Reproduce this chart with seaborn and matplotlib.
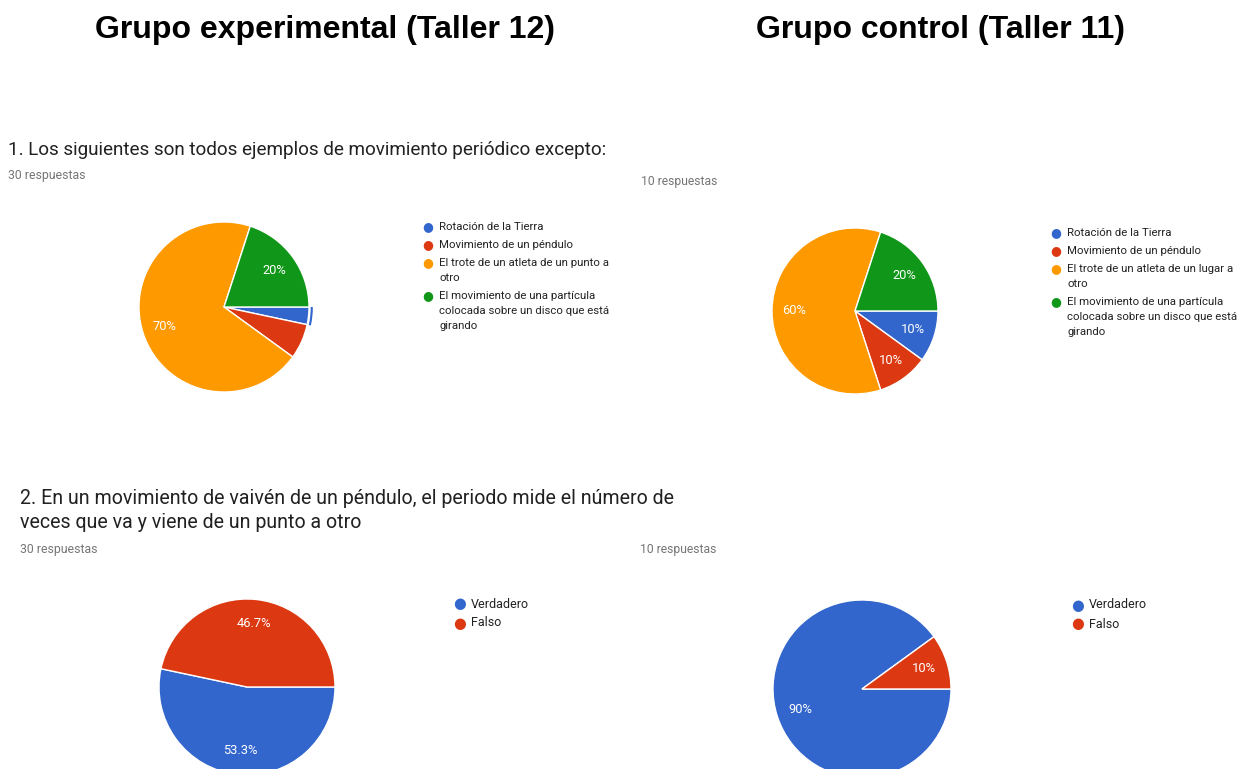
import matplotlib
matplotlib.use('Agg')
import matplotlib.pyplot as plt
import seaborn as sns

# ── data ──────────────────────────────────────────────────────────
q1_labels_exp = ['Rotación de la Tierra', 'Movimiento de un péndulo',
                 'El trote de un atleta de un punto a\notro',
                 'El movimiento de una partícula\ncolocada sobre un disco que está\ngirando']
q1_labels_ctrl = ['Rotación de la Tierra', 'Movimiento de un péndulo',
                  'El trote de un atleta de un lugar a\notro',
                  'El movimiento de una partícula\ncolocada sobre un disco que está\ngirando']
q1_exp = [1, 2, 21, 6]      # 30 respuestas
q1_ctrl = [1, 1, 6, 2]      # 10 respuestas

q2_labels = ['Verdadero', 'Falso']
q2_exp = [16, 14]
q2_ctrl = [9, 1]

colors = ['#3366cc', '#dc3912', '#ff9900', '#109618']

title_exp = 'Grupo experimental (Taller 12)'
title_ctrl = 'Grupo control (Taller 11)'
q1_text = '1. Los siguientes son todos ejemplos de movimiento periódico excepto:'
q2_text = '2. En un movimiento de vaivén de un péndulo, el periodo mide el número de\nveces que va y viene de un punto a otro'

# ── figure ────────────────────────────────────────────────────────
sns.set_theme(style='white')
plt.rcParams['font.family'] = ['Roboto', 'DejaVu Sans']

W, H = 1253, 769
fig = plt.figure(figsize=(W / 100, H / 100), dpi=100)
fig.patch.set_facecolor('white')


def fx(x):
    return x / W


def fy(y):
    return 1 - y / H


def pct_fmt(p):
    if p < 8:
        return ''
    s = f'{p:.1f}'
    if s.endswith('.0'):
        s = s[:-2]
    return s + '%'


def draw_pie(values, cx, cy, r, highlight=None):
    pad = 1.12
    ax = fig.add_axes([fx(cx - r * pad), fy(cy + r * pad), 2 * r * pad / W, 2 * r * pad / H])
    ax.pie(values, colors=colors[:len(values)], startangle=0, counterclock=False,
           autopct=pct_fmt, pctdistance=0.73,
           wedgeprops=dict(edgecolor='white', linewidth=1),
           textprops=dict(color='white', fontsize=9.3))
    if highlight is not None:
        ring = ['none'] * len(values)
        ring[highlight] = colors[highlight]
        ax.pie(values, colors=ring, startangle=0, counterclock=False, radius=1.045,
               wedgeprops=dict(width=0.025, linewidth=0))
    ax.set_xlim(-pad, pad)
    ax.set_ylim(-pad, pad)
    ax.axis('off')
    return ax


def draw_legend(labels, x, y, fs, ms, step, line_h):
    for i, lab in enumerate(labels):
        fig.text(fx(x), fy(y), '●', color=colors[i], fontsize=ms,
                 ha='center', va='center', family=['DejaVu Sans'])
        for j, line in enumerate(lab.split('\n')):
            fig.text(fx(x + 11), fy(y + j * line_h), line, fontsize=fs,
                     color='#222222', ha='left', va='center')
        y += step + line_h * (len(lab.split('\n')) - 1)


# titles
for txt, cx in [(title_exp, 325), (title_ctrl, 940)]:
    fig.text(fx(cx), fy(30), txt, fontsize=23, fontweight='bold', ha='center',
             va='center', color='black', family=['Liberation Sans', 'DejaVu Sans'])

# question 1
fig.text(fx(8), fy(150), q1_text, fontsize=13.6, color='#212121', ha='left', va='center')
fig.text(fx(8), fy(175), '30 respuestas', fontsize=8.8, color='#757575', ha='left', va='center')
fig.text(fx(717), fy(182), '10 respuestas', fontsize=8.7, color='#757575', ha='right', va='center')

draw_pie(q1_exp, 224, 307, 85, highlight=0)
draw_legend(q1_labels_exp, 428, 227, 8.2, 9, 18, 15)
draw_pie(q1_ctrl, 855, 311, 83)
draw_legend(q1_labels_ctrl, 1056, 233, 8.2, 9, 18, 15)

# question 2
for j, line in enumerate(q2_text.split('\n')):
    fig.text(fx(20), fy(498 + 24 * j), line, fontsize=14.1, color='#212121', ha='left', va='center')
fig.text(fx(20), fy(549), '30 respuestas', fontsize=8.8, color='#757575', ha='left', va='center')
fig.text(fx(716), fy(550), '10 respuestas', fontsize=8.7, color='#757575', ha='right', va='center')

draw_pie(q2_exp, 247, 687, 88)
draw_legend(q2_labels, 460, 604, 9, 10.5, 19, 15)
draw_pie(q2_ctrl, 862, 689, 89)
draw_legend(q2_labels, 1078, 605, 9, 10.5, 19, 15)

fig.savefig('out.png', dpi=100, facecolor='white')
